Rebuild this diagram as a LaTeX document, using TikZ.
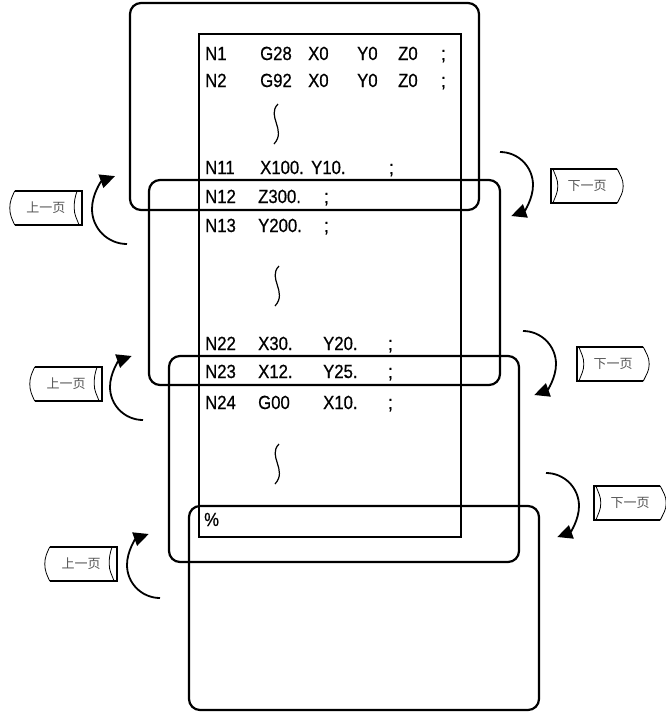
\documentclass[tikz,border=0pt]{standalone}
\usepackage{fontspec}
\usepackage{xcolor}
\usepackage{tikz}
\usetikzlibrary{arrows.meta}
\setmainfont{Liberation Sans}
\newfontfamily\codefont[FakeStretch=0.88, FakeBold=0.6]{Liberation Sans}
\newfontfamily\cjk{Noto Sans CJK SC}
\definecolor{gris}{RGB}{85,85,85}
\newcommand{\celda}[2]{\makebox[#1pt][l]{#2}}

\begin{document}
\begin{tikzpicture}[
        x=1pt, y=1pt,
        pantalla/.style={draw, line width=2.2pt, rounded corners=11pt},
        lista/.style={draw, line width=1.4pt},
        codigo/.style={anchor=base west, inner sep=0pt, font=\codefont\fontsize{19}{21}\selectfont},
        boton/.style={minimum width=72pt, minimum height=34pt, inner sep=0pt, text=gris, font=\cjk\fontsize{13}{15}\selectfont},
        borde/.style={line width=1.8pt, line join=miter},
        fino/.style={line width=0.8pt},
        flecha/.style={line width=1.8pt, -{Triangle[length=15pt, width=14pt]}},
        onda/.style={line width=1.2pt}
    ]
        \useasboundingbox (0,0) rectangle (666,-713);

        % pantallas
        \draw[pantalla] (130,-3) rectangle (479,-210);
        \draw[pantalla] (149,-180) rectangle (500,-385);
        \draw[pantalla] (169,-356) rectangle (519,-562);
        \draw[pantalla] (189,-506) rectangle (539,-710);

        % programa
        \draw[lista] (199,-34) rectangle (461,-537);
        \node[codigo] (l1) at (205,-60) {\celda{55}{N1}\celda{48}{G28}\celda{49}{X0}\celda{41}{Y0}\celda{43}{Z0};};
        \node[codigo] (l2) at (205,-87) {\celda{55}{N2}\celda{48}{G92}\celda{49}{X0}\celda{41}{Y0}\celda{43}{Z0};};
        \node[codigo] (l11) at (205,-174) {\celda{55}{N11}\celda{51}{X100.}\celda{78}{Y10.};};
        \node[codigo] (l12) at (205,-203) {\celda{53}{N12}\celda{66}{Z300.};};
        \node[codigo] (l13) at (205,-232) {\celda{53}{N13}\celda{66}{Y200.};};
        \node[codigo] (l22) at (205,-350) {\celda{53}{N22}\celda{65}{X30.}\celda{65}{Y20.};};
        \node[codigo] (l23) at (205,-378) {\celda{53}{N23}\celda{65}{X12.}\celda{65}{Y25.};};
        \node[codigo] (l24) at (205,-409) {\celda{53}{N24}\celda{65}{G00}\celda{65}{X10.};};
        \node[codigo] (fin) at (204,-526) {\%};

        \draw[onda] (278,-104) .. controls (266,-116) and (287,-130) .. (274,-144);
        \draw[onda] (279,-266) .. controls (267,-278) and (288,-292) .. (275,-306);
        \draw[onda] (279,-444) .. controls (267,-456) and (288,-470) .. (275,-484);

        % botones
        \node[boton] (ant1) at (46,-208) {上一页};
        \node[boton] (ant2) at (66,-384) {上一页};
        \node[boton] (ant3) at (81,-564) {上一页};
        \node[boton] (sig1) at (587,-186) {下一页};
        \node[boton] (sig2) at (613,-364) {下一页};
        \node[boton] (sig3) at (630,-503) {下一页};

        \foreach \b in {ant1,ant2,ant3} {
            \draw[borde] ([xshift=5pt]\b.north west) -- (\b.north east) -- (\b.south east) -- ([xshift=5pt]\b.south west);
            \draw[fino] ([xshift=5pt]\b.north west) to[out=-115,in=90] (\b.west) to[out=-90,in=115] ([xshift=5pt]\b.south west);
            \draw[fino] ([xshift=-5pt]\b.north east) to[out=-110,in=90] ([xshift=-8pt]\b.east) to[out=-90,in=110] ([xshift=-3pt]\b.south east);
        }
        \foreach \b in {sig1,sig2,sig3} {
            \draw[borde] ([xshift=-6pt]\b.north east) -- (\b.north west) -- (\b.south west) -- ([xshift=-6pt]\b.south east);
            \draw[fino] ([xshift=-6pt]\b.north east) to[out=-65,in=90] (\b.east) to[out=-90,in=65] ([xshift=-6pt]\b.south east);
            \draw[fino] ([xshift=2pt]\b.north west) to[out=-70,in=90] ([xshift=7pt]\b.west) to[out=-90,in=70] ([xshift=2pt]\b.south west);
        }

        % flechas
        \coordinate (va1) at (127,-244);
        \coordinate (va2) at (143,-420);
        \coordinate (va3) at (160,-598);
        \coordinate (vs1) at (500,-152);
        \coordinate (vs2) at (523,-331);
        \coordinate (vs3) at (546,-473);
        \draw[flecha] (va1) arc[start angle=-90, end angle=-250, radius=35];
        \draw[flecha] (va2) arc[start angle=-90, end angle=-250, radius=33];
        \draw[flecha] (va3) arc[start angle=-90, end angle=-250, radius=33];
        \draw[flecha] (vs1) arc[start angle=90, end angle=-70, radius=33];
        \draw[flecha] (vs2) arc[start angle=90, end angle=-70, radius=33];
        \draw[flecha] (vs3) arc[start angle=90, end angle=-70, radius=33];
    \end{tikzpicture}
\end{document}
